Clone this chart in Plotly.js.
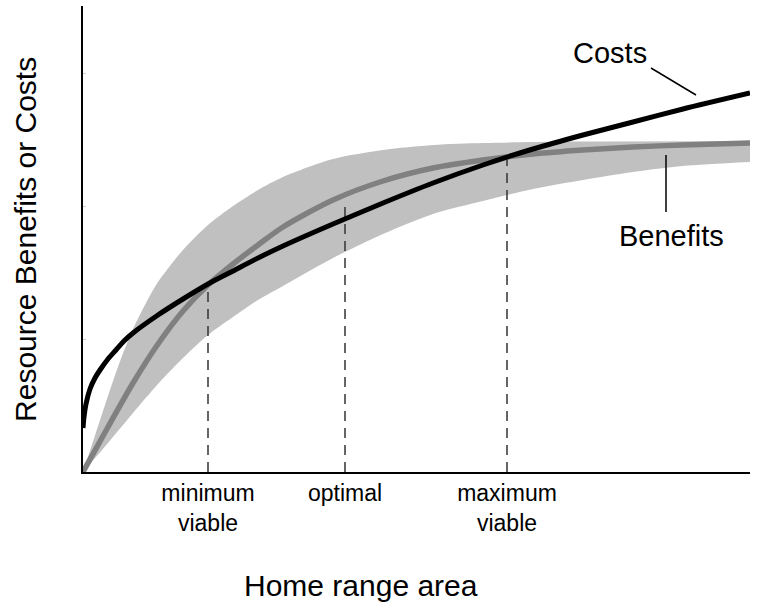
<!DOCTYPE html>
<html>
<head>
<meta charset="utf-8">
<script src="https://cdn.plot.ly/plotly-3.0.1.min.js"></script>
<style>html,body{margin:0;padding:0;background:#fff;}#chart{width:759px;height:609px;}</style>
</head>
<body>
<div id="chart"></div>
<script>
// Values (arbitrary units: x 0..667, y 0..466)
const costsX = [0, 1, 3, 7, 12, 17, 25, 33, 41, 50, 75, 100, 125, 150, 175, 200, 250, 300, 350, 400, 450, 500, 550, 600, 667];
const costsY = [44, 55, 68, 83, 94, 102, 113, 122, 131, 139, 157, 173, 188, 201, 214, 226, 248, 269, 289, 307, 323, 337, 350, 363, 379];

const benefitsX = [0, 25, 50, 75, 100, 125, 150, 175, 200, 250, 300, 350, 400, 450, 500, 550, 600, 667];
const benefitsY = [0, 45, 89, 128, 161, 187, 208, 227, 245, 272, 291, 304, 312, 318, 322, 325, 327, 329];

const bandUpperX = [0, 12.5, 25, 37.5, 50, 62.5, 75, 100, 125, 150, 175, 200, 250, 300, 350, 400, 450, 500, 667];
const bandUpperY = [0, 38, 76, 112, 143, 168, 190, 222, 247, 266, 282, 295, 313, 322, 327, 329, 330, 330.5, 331];
const bandLowerX = [0, 25, 50, 75, 100, 125, 150, 175, 200, 250, 300, 350, 400, 450, 500, 550, 600, 667];
const bandLowerY = [0, 29, 59, 88, 114, 137, 155, 172, 186, 214, 238, 258, 271, 283, 292, 300, 306, 310];

const thresholdX = [125, 262, 424];
const thresholdTop = [189, 270, 312];
const tickLabels = ["minimum<br>viable", "optimal", "maximum<br>viable"];
const yTickVals = [133, 266, 399];

const FONT = "Arial, 'Liberation Sans', sans-serif";

const traces = [
  {x: bandLowerX, y: bandLowerY, type: 'scatter', mode: 'lines',
   line: {width: 0, color: '#c0c0c0', shape: 'spline', smoothing: 0.8},
   hoverinfo: 'skip', showlegend: false},
  {x: bandUpperX, y: bandUpperY, type: 'scatter', mode: 'lines', fill: 'tonexty',
   fillcolor: '#c0c0c0', line: {width: 0, color: '#c0c0c0', shape: 'spline', smoothing: 0.8},
   hoverinfo: 'skip', showlegend: false},
];
// dashed threshold lines
thresholdX.forEach((tx, i) => {
  traces.push({x: [tx, tx], y: [0, thresholdTop[i]], type: 'scatter', mode: 'lines',
    line: {color: '#333', width: 1.5, dash: '10px,7px'}, showlegend: false, hoverinfo: 'skip'});
});
traces.push({x: benefitsX, y: benefitsY, type: 'scatter', mode: 'lines',
  line: {color: '#808080', width: 5.5, shape: 'spline', smoothing: 0.8}, showlegend: false, name: 'Benefits'});
traces.push({x: costsX, y: costsY, type: 'scatter', mode: 'lines',
  line: {color: '#000', width: 5, shape: 'spline', smoothing: 0.8}, showlegend: false, name: 'Costs'});

const layout = {
  width: 759, height: 609,
  margin: {l: 83, r: 9, t: 6, b: 137},
  paper_bgcolor: '#fff', plot_bgcolor: '#fff',
  font: {family: FONT, color: '#000'},
  xaxis: {range: [0, 667], showgrid: false, zeroline: false, showline: true,
    linecolor: '#000', linewidth: 1.5, tickvals: thresholdX, ticktext: tickLabels,
    ticks: '', tickfont: {size: 23, family: FONT, color: '#000'}, fixedrange: true},
  yaxis: {range: [0, 466], showgrid: false, zeroline: false, showline: true,
    linecolor: '#000', linewidth: 2, tickvals: yTickVals, ticks: 'inside', ticklen: 3,
    tickcolor: '#ccc', showticklabels: false, fixedrange: true},
  annotations: [
    {text: 'Home range area', xref: 'paper', yref: 'paper', x: 0.4168, y: -0.2446,
     xanchor: 'center', yanchor: 'middle', showarrow: false, font: {size: 30, family: FONT}},
    {text: 'Resource Benefits or Costs', xref: 'paper', yref: 'paper', x: -0.087, y: 0.5,
     textangle: -90, xanchor: 'center', yanchor: 'middle', showarrow: false, font: {size: 30, family: FONT}},
    {text: 'Costs', xref: 'x', yref: 'y', x: 527, y: 419, xanchor: 'center', yanchor: 'middle',
     showarrow: false, font: {size: 29, family: FONT}},
    {text: 'Benefits', xref: 'x', yref: 'y', x: 588, y: 236, xanchor: 'center', yanchor: 'middle',
     showarrow: false, font: {size: 29, family: FONT}}
  ],
  shapes: [
    {type: 'line', xref: 'x', yref: 'y', x0: 568, y0: 404, x1: 613, y1: 377, line: {color: '#000', width: 1.5}},
    {type: 'line', xref: 'x', yref: 'y', x0: 583, y0: 317, x1: 583, y1: 260, line: {color: '#000', width: 1.5}}
  ]
};

Plotly.newPlot('chart', traces, layout, {displayModeBar: false, staticPlot: true});
</script>
</body>
</html>
